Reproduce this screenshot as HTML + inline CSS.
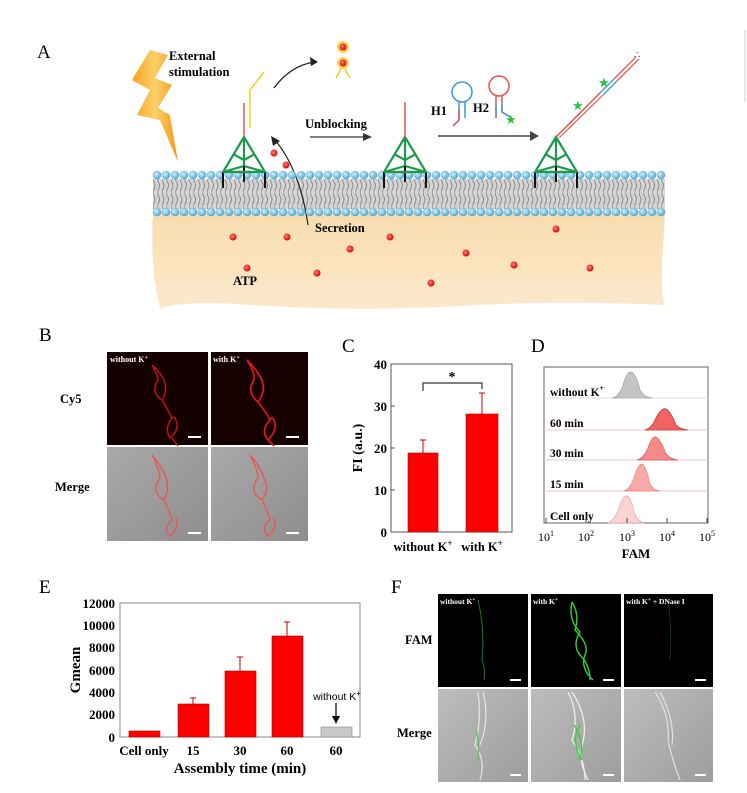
<!DOCTYPE html>
<html><head><meta charset="utf-8"><style>
html,body{margin:0;padding:0;background:#fff}
svg{display:block}
text{font-family:"Liberation Serif",serif}
.b{font-weight:bold}
</style></head><body>
<svg width="747" height="793" viewBox="0 0 747 793" xmlns="http://www.w3.org/2000/svg">
<defs>
<linearGradient id="lg" x1="0" y1="0" x2="1" y2="0"><stop offset="0" stop-color="#f7a21c"/><stop offset=".5" stop-color="#fbd06a"/><stop offset="1" stop-color="#f29a1a"/></linearGradient>
<linearGradient id="beige" x1="0" y1="0" x2="0" y2="1"><stop offset="0" stop-color="#f8dcae"/><stop offset="1" stop-color="#fbe9cc"/></linearGradient>
<radialGradient id="bead" cx=".4" cy=".4" r=".6"><stop offset="0" stop-color="#d7eef8"/><stop offset="1" stop-color="#4aa8d0"/></radialGradient>
<radialGradient id="rd" cx=".4" cy=".4" r=".6"><stop offset="0" stop-color="#ff8080"/><stop offset="1" stop-color="#e00000"/></radialGradient>
<pattern id="tails" x="0" y="0" width="4.5" height="14" patternUnits="userSpaceOnUse">
<path d="M1 0 q2 3.5 0 7 q-2 3.5 0 7" stroke="#8a8a8a" stroke-width="1" fill="none"/>
</pattern>
<linearGradient id="gray1" x1="0" y1="0" x2="1" y2="1"><stop offset="0" stop-color="#a9a9a9"/><stop offset="1" stop-color="#8e8e8e"/></linearGradient>
<linearGradient id="gray2" x1="0" y1="0" x2="1" y2="1"><stop offset="0" stop-color="#bdbdbd"/><stop offset="1" stop-color="#9d9d9d"/></linearGradient>
</defs>

<!-- ============ Panel A ============ -->
<text x="37" y="58" font-size="19">A</text>
<path d="M153 212 L665 212 L663 250 Q660 280 664 305 Q560 300 460 306 Q350 312 250 305 Q190 300 160 308 Q150 270 153 212 Z" fill="url(#beige)"/>
<rect x="153" y="179" width="512" height="30" fill="#d4d4d4"/>
<rect x="153" y="179" width="512" height="30" fill="url(#tails)"/>
<polygon points="150,50 132,80 150,90 137,115 160,120 178,162 170,115 158,108 172,85 155,78 168,55" fill="url(#lg)"/>
<text class="b" x="169" y="60" font-size="12.5">External</text>
<text class="b" x="169" y="76" font-size="12.5">stimulation</text>

<g stroke="#1a9a4a" stroke-width="2.2" fill="none">
 <path d="M244 137 L223 172 L265 172 Z M244 137 L244 166 M223 172 L244 166 L265 172 M233 154 L244 160 L255 154"/>
 <path d="M405 137 L384 172 L426 172 Z M405 137 L405 166 M384 172 L405 166 L426 172 M394 154 L405 160 L416 154"/>
 <path d="M556 137 L535 172 L577 172 Z M556 137 L556 166 M535 172 L556 166 L577 172 M545 154 L556 160 L567 154"/>
</g>
<line x1="244" y1="137" x2="244" y2="103" stroke="#e8534a" stroke-width="1.5"/>
<path d="M250 128 L250 90 L264 72" stroke="#f0d020" stroke-width="1.5" fill="none"/>
<line x1="405" y1="137" x2="405" y2="102" stroke="#e8534a" stroke-width="1.5"/>
<path d="M556 137 L600 93" stroke="#e8534a" stroke-width="1.5"/>
<path d="M559 138 L603 95" stroke="#e8534a" stroke-width="1.2"/>
<path d="M600 93 L614 79 M603 95 L617 81" stroke="#3a9ad8" stroke-width="1.3"/>
<path d="M614 79 L636 57 M617 81 L639 59" stroke="#e8534a" stroke-width="1.3"/>
<text x="634" y="58" font-size="10" fill="#333">∴</text>
<text x="572" y="110" font-size="13" fill="#22c43a">★</text>
<text x="598" y="87" font-size="13" fill="#22c43a">★</text>
<path d="M274 88 Q290 66 314 62" stroke="#222" stroke-width="1.3" fill="none"/>
<polygon points="318,62 310,57 311,66" fill="#222"/>
<path d="M308 225 Q300 170 275 140" stroke="#222" stroke-width="1.2" fill="none"/>
<polygon points="271,136 273,146 280,141" fill="#222"/>
<path d="M336 78 Q342 70 342 60 M350 78 Q344 70 344 60" stroke="#f0d020" stroke-width="1.5" fill="none"/>
<circle cx="343" cy="47" r="6" fill="#f6d54a"/><circle cx="343" cy="63" r="6" fill="#f6d54a"/>
<circle cx="343" cy="47" r="3.5" fill="url(#rd)"/><circle cx="343" cy="63" r="3.5" fill="url(#rd)"/>
<text class="b" x="305" y="128" font-size="12.5">Unblocking</text>
<line x1="310" y1="137" x2="366" y2="137" stroke="#333" stroke-width="1.3"/>
<polygon points="372,137 363,133 363,141" fill="#333"/>
<line x1="438" y1="136" x2="532" y2="136" stroke="#444" stroke-width="1.6"/>
<polygon points="539,136 530,131 530,141" fill="#444"/>
<text class="b" x="431" y="115" font-size="12.5">H1</text>
<text class="b" x="473" y="112" font-size="12.5">H2</text>
<circle cx="462" cy="92" r="10" fill="none" stroke="#3a9ad8" stroke-width="1.5"/>
<path d="M459 101 L459 120 L453 126 M465 101 L465 118" stroke="#3a9ad8" stroke-width="1.5" fill="none"/>
<path d="M459 110 L459 120 L453 126" stroke="#e8534a" stroke-width="1.5" fill="none"/>
<circle cx="499" cy="86" r="10" fill="none" stroke="#e8534a" stroke-width="1.5"/>
<path d="M496 95 L496 118 M502 95 L502 112 L510 117" stroke="#e8534a" stroke-width="1.5" fill="none"/>
<path d="M496 105 L496 118 M502 104 L502 112 L510 117" stroke="#3a9ad8" stroke-width="1.5" fill="none"/>
<text x="505" y="124" font-size="13" fill="#22c43a">★</text>
<g fill="url(#rd)">
<circle cx="274" cy="153" r="3.5"/><circle cx="286" cy="165" r="3.5"/>
<circle cx="233" cy="237" r="3.5"/><circle cx="287" cy="237" r="3.5"/><circle cx="350" cy="249" r="3.5"/>
<circle cx="390" cy="237" r="3.5"/><circle cx="466" cy="253" r="3.5"/><circle cx="514" cy="265" r="3.5"/>
<circle cx="556" cy="229" r="3.5"/><circle cx="590" cy="268" r="3.5"/><circle cx="247" cy="268" r="3.5"/>
<circle cx="317" cy="273" r="3.5"/><circle cx="431" cy="283" r="3.5"/>
</g>
<text class="b" x="315" y="232" font-size="12.5">Secretion</text>
<text class="b" x="233" y="285" font-size="12.5">ATP</text>
<line x1="745" y1="30" x2="745" y2="102" stroke="#ccc" stroke-width="1"/>

<!-- ============ Panel B ============ -->
<text x="39" y="341" font-size="19">B</text>
<text class="b" x="60" y="403" font-size="12.5">Cy5</text>
<text class="b" x="55" y="491" font-size="12.5">Merge</text>
<rect x="107" y="352" width="101" height="93" fill="#150000"/>
<rect x="211" y="352" width="97" height="93" fill="#160101"/>
<rect x="107" y="447" width="101" height="94" fill="url(#gray1)"/>
<rect x="211" y="447" width="97" height="94" fill="url(#gray1)"/>
<g fill="none" stroke="#d01010" stroke-width="1.3">
<path d="M152 365 Q158 375 158 380 Q150 392 162 400 Q168 392 164 380 Q160 372 152 365 M162 400 Q168 410 172 418 Q164 428 170 438 Q180 430 176 420 Q174 416 172 418 M172 438 L178 446"/>
</g>
<g fill="none" stroke="#e01818" stroke-width="1.7">
<path d="M247 360 Q255 372 254 380 Q246 392 258 402 Q266 392 262 380 Q257 370 247 360 M258 402 Q266 412 270 420 Q260 430 268 440 Q278 430 274 420 Q272 416 270 420 M268 440 L274 446"/>
</g>
<g fill="none" stroke="#f05050" stroke-width="1.3">
<path d="M152 455 Q160 470 160 478 Q150 492 164 500 Q170 490 166 478 Q162 466 152 455 M164 500 Q170 512 172 520 Q162 528 170 536 Q180 528 176 518"/>
<path d="M250 455 Q258 470 258 478 Q248 492 262 500 Q270 490 264 478 Q260 466 250 455 M262 500 Q268 512 270 520 Q260 528 268 536 Q278 528 274 518"/>
</g>
<text class="b" x="110" y="362" font-size="8" fill="#fff">without K<tspan dy="-3" font-size="6">+</tspan></text>
<text class="b" x="213" y="362" font-size="8" fill="#fff">with K<tspan dy="-3" font-size="6">+</tspan></text>
<g stroke="#fff" stroke-width="2"><line x1="188" y1="437" x2="201" y2="437"/><line x1="286" y1="437" x2="299" y2="437"/><line x1="188" y1="533" x2="201" y2="533"/><line x1="286" y1="533" x2="299" y2="533"/></g>

<!-- ============ Panel C ============ -->
<text x="342" y="352" font-size="19">C</text>
<rect x="391" y="364" width="121" height="168" fill="none" stroke="#555" stroke-width="1"/>
<g font-size="13" class="b" text-anchor="end">
<text x="387" y="369" >40</text><text x="387" y="411">30</text><text x="387" y="453">20</text><text x="387" y="495">10</text><text x="387" y="537">0</text>
</g>
<g stroke="#555"><line x1="391" y1="406" x2="395" y2="406"/><line x1="391" y1="448" x2="395" y2="448"/><line x1="391" y1="490" x2="395" y2="490"/></g>
<rect x="408" y="453" width="30" height="79" fill="#f00" stroke="#a00" stroke-width=".6"/>
<rect x="466" y="414" width="32" height="118" fill="#f00" stroke="#a00" stroke-width=".6"/>
<g stroke="#c00" stroke-width="1"><line x1="423" y1="453" x2="423" y2="440"/><line x1="420" y1="440" x2="426" y2="440"/>
<line x1="482" y1="414" x2="482" y2="393"/><line x1="479" y1="393" x2="485" y2="393"/></g>
<path d="M423 391 L423 383 L482 383 L482 389" fill="none" stroke="#333" stroke-width="1.2"/>
<text class="b" x="452" y="381" font-size="14" text-anchor="middle">*</text>
<text class="b" x="0" y="0" font-size="14" transform="translate(362 448) rotate(-90)" text-anchor="middle">FI (a.u.)</text>
<text class="b" x="423" y="551" font-size="12.5" text-anchor="middle">without K<tspan dy="-5" font-size="9">+</tspan></text>
<text class="b" x="482" y="551" font-size="12.5" text-anchor="middle">with K<tspan dy="-5" font-size="9">+</tspan></text>

<!-- ============ Panel D ============ -->
<text x="531" y="352" font-size="19">D</text>
<rect x="544" y="367" width="164" height="156" fill="none" stroke="#666" stroke-width="1"/>
<g stroke="#f0c8c8" stroke-width="1"><line x1="544" y1="398" x2="708" y2="398" stroke="#ddd"/><line x1="544" y1="430" x2="708" y2="430"/><line x1="544" y1="460" x2="708" y2="460"/><line x1="544" y1="491" x2="708" y2="491"/></g>
<path d="M612 398 Q620 396 623 385 Q627 371 631 372 Q636 373 640 390 Q644 397 652 398 Z" fill="#c4c4c4" stroke="#999" stroke-width=".6"/>
<path d="M645 430 Q652 428 656 418 Q662 407 666 409 Q671 412 676 425 Q680 429 688 430 Z" fill="#f06464" stroke="#d03030" stroke-width=".8"/>
<path d="M637 460 Q644 458 648 448 Q652 436 656 437 Q661 440 666 454 Q670 459 678 460 Z" fill="#f58a8a" stroke="#e05050" stroke-width=".7"/>
<path d="M624 491 Q630 489 634 478 Q638 464 642 464 Q646 466 650 484 Q653 490 660 491 Z" fill="#f8aaaa" stroke="#e88080" stroke-width=".7"/>
<path d="M608 523 Q615 520 619 508 Q623 495 627 496 Q631 498 634 512 Q637 521 644 523 Z" fill="#fbd4d4" stroke="#eaa0a0" stroke-width=".7"/>
<g class="b" font-size="11.5">
<text x="550" y="396">without K<tspan dy="-5" font-size="8">+</tspan></text>
<text x="550" y="427">60 min</text><text x="550" y="457">30 min</text><text x="550" y="488">15 min</text><text x="550" y="520">Cell only</text>
</g>
<g stroke="#444"><line x1="546" y1="523" x2="546" y2="518"/><line x1="586" y1="523" x2="586" y2="518"/><line x1="627" y1="523" x2="627" y2="518"/><line x1="667" y1="523" x2="667" y2="518"/><line x1="707" y1="523" x2="707" y2="518"/></g>
<g font-size="12" text-anchor="middle">
<text x="546" y="541">10<tspan dy="-5" font-size="8">1</tspan></text><text x="586" y="541">10<tspan dy="-5" font-size="8">2</tspan></text><text x="627" y="541">10<tspan dy="-5" font-size="8">3</tspan></text><text x="667" y="541">10<tspan dy="-5" font-size="8">4</tspan></text><text x="707" y="541">10<tspan dy="-5" font-size="8">5</tspan></text>
</g>
<text class="b" x="636" y="558" font-size="13" text-anchor="middle">FAM</text>

<!-- ============ Panel E ============ -->
<text x="39" y="593" font-size="19">E</text>
<rect x="120" y="603" width="240" height="134" fill="none" stroke="#888" stroke-width="1"/>
<g font-size="13" class="b" text-anchor="end">
<text x="115" y="608">12000</text><text x="115" y="630">10000</text><text x="115" y="652">8000</text><text x="115" y="675">6000</text><text x="115" y="697">4000</text><text x="115" y="719">2000</text><text x="115" y="742">0</text>
</g>
<g fill="#f00" stroke="#a00" stroke-width=".6">
<rect x="129" y="731" width="31" height="6"/>
<rect x="178" y="704" width="31" height="33"/>
<rect x="225" y="671" width="31" height="66"/>
<rect x="272" y="636" width="31" height="101"/>
</g>
<rect x="321" y="727" width="31" height="10" fill="#c8c8c8" stroke="#888" stroke-width=".6"/>
<g stroke="#c00" stroke-width="1"><line x1="193" y1="704" x2="193" y2="698"/><line x1="190" y1="698" x2="196" y2="698"/>
<line x1="240" y1="671" x2="240" y2="657"/><line x1="237" y1="657" x2="243" y2="657"/>
<line x1="287" y1="636" x2="287" y2="622"/><line x1="284" y1="622" x2="290" y2="622"/></g>
<text x="337" y="700" font-size="10.5" text-anchor="middle" style="font-family:'Liberation Sans',sans-serif">without K<tspan dy="-4" font-size="8">+</tspan></text>
<line x1="336" y1="703" x2="336" y2="718" stroke="#111" stroke-width="1.3"/>
<polygon points="336,724 332,716 340,716" fill="#111"/>
<text class="b" font-size="15" transform="translate(80 670) rotate(-90)" text-anchor="middle">Gmean</text>
<g class="b" font-size="13" text-anchor="middle">
<text x="144" y="755">Cell only</text><text x="193" y="755">15</text><text x="240" y="755">30</text><text x="287" y="755">60</text><text x="336" y="755">60</text>
</g>
<text class="b" x="240" y="773" font-size="15" text-anchor="middle">Assembly time (min)</text>

<!-- ============ Panel F ============ -->
<text x="391" y="593" font-size="19">F</text>
<text class="b" x="405" y="644" font-size="12.5">FAM</text>
<text class="b" x="397" y="737" font-size="12.5">Merge</text>
<rect x="438" y="594" width="90" height="93" fill="#000"/>
<rect x="531" y="594" width="90" height="93" fill="#000"/>
<rect x="624" y="594" width="89" height="93" fill="#000"/>
<rect x="438" y="689" width="90" height="93" fill="url(#gray2)"/>
<rect x="531" y="689" width="90" height="93" fill="url(#gray2)"/>
<rect x="624" y="689" width="89" height="93" fill="url(#gray2)"/>
<path d="M478 600 Q485 630 482 660 Q486 670 484 680" stroke="#1c7a1c" stroke-width="1" fill="none"/>
<path d="M572 602 Q580 615 575 630 Q590 645 585 655 Q580 668 593 680 M572 602 Q568 620 580 632 Q572 645 580 655 Q590 665 590 680" stroke="#2fd22f" stroke-width="1.4" fill="none"/>
<path d="M668 600 Q672 630 670 660" stroke="#0c3a0c" stroke-width="1" fill="none"/>
<path d="M478 692 Q482 720 475 745 Q486 760 480 780 M483 692 Q490 720 480 745" stroke="#e6e6e6" stroke-width="1.2" fill="none"/>
<path d="M476 730 Q480 745 478 760" stroke="#3acc3a" stroke-width="1" fill="none"/>
<path d="M568 692 Q580 715 572 740 Q585 760 585 780 M572 692 Q590 720 582 745 Q578 760 588 780" stroke="#eee" stroke-width="1.3" fill="none"/>
<path d="M574 725 Q585 740 580 760 M580 725 Q570 742 582 760" stroke="#2fd22f" stroke-width="1.2" fill="none"/>
<path d="M655 692 Q670 715 668 740 Q672 760 680 780 M660 692 Q675 720 672 745" stroke="#e6e6e6" stroke-width="1.1" fill="none"/>
<text class="b" x="440" y="604" font-size="7.5" fill="#fff">without K<tspan dy="-3" font-size="5.5">+</tspan></text>
<text class="b" x="533" y="604" font-size="7.5" fill="#fff">with K<tspan dy="-3" font-size="5.5">+</tspan></text>
<text class="b" x="626" y="604" font-size="7.5" fill="#fff">with K<tspan dy="-3" font-size="5.5">+</tspan><tspan dy="3"> + DNase I</tspan></text>
<g stroke="#fff" stroke-width="2">
<line x1="510" y1="680" x2="521" y2="680"/><line x1="603" y1="680" x2="614" y2="680"/><line x1="695" y1="680" x2="706" y2="680"/>
<line x1="510" y1="775" x2="521" y2="775"/><line x1="603" y1="775" x2="614" y2="775"/><line x1="695" y1="775" x2="706" y2="775"/>
</g>

<g fill="url(#bead)">
<circle cx="157" cy="175" r="4.3"/><circle cx="166" cy="175" r="4.3"/><circle cx="175" cy="175" r="4.3"/><circle cx="184" cy="175" r="4.3"/><circle cx="193" cy="175" r="4.3"/><circle cx="202" cy="175" r="4.3"/><circle cx="211" cy="175" r="4.3"/><circle cx="220" cy="175" r="4.3"/><circle cx="229" cy="175" r="4.3"/><circle cx="238" cy="175" r="4.3"/><circle cx="247" cy="175" r="4.3"/><circle cx="256" cy="175" r="4.3"/><circle cx="265" cy="175" r="4.3"/><circle cx="274" cy="175" r="4.3"/><circle cx="283" cy="175" r="4.3"/><circle cx="292" cy="175" r="4.3"/><circle cx="301" cy="175" r="4.3"/><circle cx="310" cy="175" r="4.3"/><circle cx="319" cy="175" r="4.3"/><circle cx="328" cy="175" r="4.3"/><circle cx="337" cy="175" r="4.3"/><circle cx="346" cy="175" r="4.3"/><circle cx="355" cy="175" r="4.3"/><circle cx="364" cy="175" r="4.3"/><circle cx="373" cy="175" r="4.3"/><circle cx="382" cy="175" r="4.3"/><circle cx="391" cy="175" r="4.3"/><circle cx="400" cy="175" r="4.3"/><circle cx="409" cy="175" r="4.3"/><circle cx="418" cy="175" r="4.3"/><circle cx="427" cy="175" r="4.3"/><circle cx="436" cy="175" r="4.3"/><circle cx="445" cy="175" r="4.3"/><circle cx="454" cy="175" r="4.3"/><circle cx="463" cy="175" r="4.3"/><circle cx="472" cy="175" r="4.3"/><circle cx="481" cy="175" r="4.3"/><circle cx="490" cy="175" r="4.3"/><circle cx="499" cy="175" r="4.3"/><circle cx="508" cy="175" r="4.3"/><circle cx="517" cy="175" r="4.3"/><circle cx="526" cy="175" r="4.3"/><circle cx="535" cy="175" r="4.3"/><circle cx="544" cy="175" r="4.3"/><circle cx="553" cy="175" r="4.3"/><circle cx="562" cy="175" r="4.3"/><circle cx="571" cy="175" r="4.3"/><circle cx="580" cy="175" r="4.3"/><circle cx="589" cy="175" r="4.3"/><circle cx="598" cy="175" r="4.3"/><circle cx="607" cy="175" r="4.3"/><circle cx="616" cy="175" r="4.3"/><circle cx="625" cy="175" r="4.3"/><circle cx="634" cy="175" r="4.3"/><circle cx="643" cy="175" r="4.3"/><circle cx="652" cy="175" r="4.3"/><circle cx="661" cy="175" r="4.3"/>
<circle cx="157" cy="212" r="4.3"/><circle cx="166" cy="212" r="4.3"/><circle cx="175" cy="212" r="4.3"/><circle cx="184" cy="212" r="4.3"/><circle cx="193" cy="212" r="4.3"/><circle cx="202" cy="212" r="4.3"/><circle cx="211" cy="212" r="4.3"/><circle cx="220" cy="212" r="4.3"/><circle cx="229" cy="212" r="4.3"/><circle cx="238" cy="212" r="4.3"/><circle cx="247" cy="212" r="4.3"/><circle cx="256" cy="212" r="4.3"/><circle cx="265" cy="212" r="4.3"/><circle cx="274" cy="212" r="4.3"/><circle cx="283" cy="212" r="4.3"/><circle cx="292" cy="212" r="4.3"/><circle cx="301" cy="212" r="4.3"/><circle cx="310" cy="212" r="4.3"/><circle cx="319" cy="212" r="4.3"/><circle cx="328" cy="212" r="4.3"/><circle cx="337" cy="212" r="4.3"/><circle cx="346" cy="212" r="4.3"/><circle cx="355" cy="212" r="4.3"/><circle cx="364" cy="212" r="4.3"/><circle cx="373" cy="212" r="4.3"/><circle cx="382" cy="212" r="4.3"/><circle cx="391" cy="212" r="4.3"/><circle cx="400" cy="212" r="4.3"/><circle cx="409" cy="212" r="4.3"/><circle cx="418" cy="212" r="4.3"/><circle cx="427" cy="212" r="4.3"/><circle cx="436" cy="212" r="4.3"/><circle cx="445" cy="212" r="4.3"/><circle cx="454" cy="212" r="4.3"/><circle cx="463" cy="212" r="4.3"/><circle cx="472" cy="212" r="4.3"/><circle cx="481" cy="212" r="4.3"/><circle cx="490" cy="212" r="4.3"/><circle cx="499" cy="212" r="4.3"/><circle cx="508" cy="212" r="4.3"/><circle cx="517" cy="212" r="4.3"/><circle cx="526" cy="212" r="4.3"/><circle cx="535" cy="212" r="4.3"/><circle cx="544" cy="212" r="4.3"/><circle cx="553" cy="212" r="4.3"/><circle cx="562" cy="212" r="4.3"/><circle cx="571" cy="212" r="4.3"/><circle cx="580" cy="212" r="4.3"/><circle cx="589" cy="212" r="4.3"/><circle cx="598" cy="212" r="4.3"/><circle cx="607" cy="212" r="4.3"/><circle cx="616" cy="212" r="4.3"/><circle cx="625" cy="212" r="4.3"/><circle cx="634" cy="212" r="4.3"/><circle cx="643" cy="212" r="4.3"/><circle cx="652" cy="212" r="4.3"/><circle cx="661" cy="212" r="4.3"/>
</g>
<g stroke="#111" stroke-width="2">
 <path d="M223 172 L223 188 M265 172 L265 188 M244 166 L244 182 M384 172 L384 188 M426 172 L426 188 M405 166 L405 182 M535 172 L535 188 M577 172 L577 188 M556 166 L556 182"/>
</g>
<g stroke="#1a9a4a" stroke-width="2.2"><path d="M223 172 L265 172 M384 172 L426 172 M535 172 L577 172"/></g>
</svg>
</body></html>
